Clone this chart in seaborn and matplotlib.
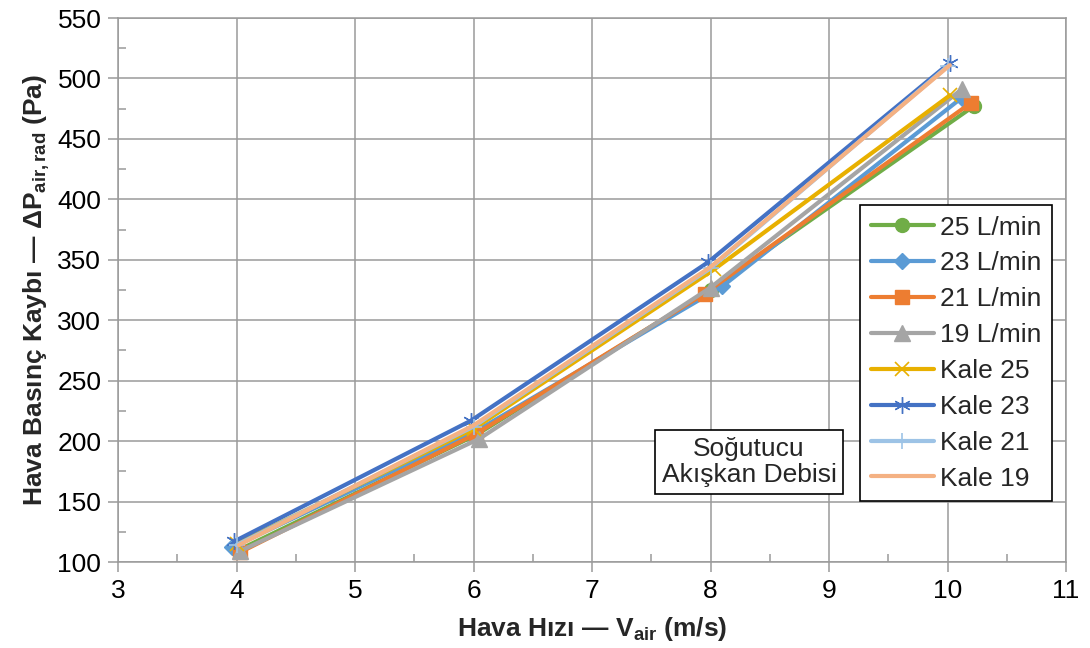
import matplotlib
matplotlib.use("Agg")
import matplotlib.pyplot as plt
from matplotlib.ticker import MultipleLocator
import seaborn as sns
import pandas as pd

# Measured and model (Kale) air-side pressure drop vs. air velocity
series_names = ["25 L/min", "23 L/min", "21 L/min", "19 L/min",
                "Kale 25", "Kale 23", "Kale 21", "Kale 19"]

v_25 = [4.02, 6.02, 8.00, 10.22]
dp_25 = [110, 205, 325, 477]
v_23 = [3.96, 6.00, 8.10, 10.12]
dp_23 = [112, 207, 328, 484]
v_21 = [4.03, 6.02, 7.95, 10.20]
dp_21 = [108, 206, 322, 480]
v_19 = [4.03, 6.05, 8.00, 10.12]
dp_19 = [109, 202, 327, 491]
v_k25 = [4.00, 6.00, 8.03, 10.02]
dp_k25 = [115, 210, 342, 486]
v_k23 = [3.98, 5.98, 7.98, 10.02]
dp_k23 = [117, 217, 348, 513]
v_k21 = [4.00, 6.00, 8.00, 10.00]
dp_k21 = [114, 212, 343, 510]
v_k19 = [4.02, 6.00, 8.00, 10.02]
dp_k19 = [114, 213, 344, 511]

x_values = [v_25, v_23, v_21, v_19, v_k25, v_k23, v_k21, v_k19]
y_values = [dp_25, dp_23, dp_21, dp_19, dp_k25, dp_k23, dp_k21, dp_k19]

colors = ["#70AD47", "#5B9BD5", "#ED7D31", "#A5A5A5",
          "#E8B000", "#4472C4", "#9DC3E6", "#F4B183"]
markers = ["o", "D", "s", "^", "x", (6, 2, 0), "+", None]
msizes = [10, 8, 10, 11, 10, 12, 12, 0]
mews = [1, 1, 1, 1, 1.2, 1.0, 1.2, 0]

sns.set_theme(style="white")
plt.rcParams["font.family"] = ["Liberation Sans", "DejaVu Sans"]
plt.rcParams["mathtext.fontset"] = "custom"
plt.rcParams["mathtext.rm"] = "Liberation Sans"
plt.rcParams["mathtext.bf"] = "Liberation Sans:bold"
plt.rcParams["mathtext.it"] = "Liberation Sans:italic"

FS = 19

fig = plt.figure(figsize=(10.9, 6.48), dpi=100)
ax = fig.add_axes([118 / 1090, 1 - 562 / 648, (1066 - 118) / 1090, (562 - 18) / 648])

grid_c = "#9a9a9a"

for name, xs, ys, c, m, ms, mew in zip(series_names, x_values, y_values,
                                       colors, markers, msizes, mews):
    df = pd.DataFrame({"V": xs, "dP": ys})
    sns.lineplot(data=df, x="V", y="dP", ax=ax, color=c, lw=3.0,
                 marker=m if m is not None else "", markersize=ms,
                 markeredgewidth=mew, markeredgecolor=c, markerfacecolor=c,
                 label=name, sort=False, zorder=3)

ax.set_xlim(3, 11)
ax.set_ylim(100, 550)
ax.xaxis.set_major_locator(MultipleLocator(1))
ax.xaxis.set_minor_locator(MultipleLocator(0.5))
ax.yaxis.set_major_locator(MultipleLocator(50))
ax.yaxis.set_minor_locator(MultipleLocator(25))

ax.grid(True, which="major", color=grid_c, lw=1.1, zorder=0)
ax.set_axisbelow(True)
for s in ax.spines.values():
    s.set_color(grid_c)
    s.set_linewidth(1.1)

ax.tick_params(axis="both", which="major", direction="out", length=7,
               width=1.1, color=grid_c, labelsize=FS, labelcolor="black", pad=5,
               bottom=True, left=True)
ax.tick_params(axis="both", which="minor", direction="in", length=6,
               width=1.1, color=grid_c, bottom=True, left=True)

ax.set_xlabel(r"Hava Hızı — V$_{\mathbf{air}}$ (m/s)", fontsize=FS,
              fontweight="bold", labelpad=9)
ax.set_ylabel(r"Hava Basınç Kaybı — ΔP$_{\mathbf{air,rad}}$ (Pa)", fontsize=FS,
              fontweight="bold", labelpad=4)

leg = ax.legend(loc="upper left", bbox_to_anchor=(860 / 1090, 1 - 205 / 648),
                bbox_transform=fig.transFigure, borderaxespad=0,
                fontsize=FS, frameon=True, fancybox=False, framealpha=1,
                edgecolor="black", handlelength=2.4, handletextpad=0.25,
                labelspacing=0.45, borderpad=0.4)
leg.get_frame().set_linewidth(1.2)

fig.text(749 / 1090, 1 - 462 / 648, "Soğutucu\nAkışkan Debisi", fontsize=FS,
         ha="center", va="center", linespacing=1.1,
         bbox=dict(boxstyle="square,pad=0.25", fc="white", ec="black", lw=1.2))

fig.savefig("out.png", dpi=100, facecolor="white")
